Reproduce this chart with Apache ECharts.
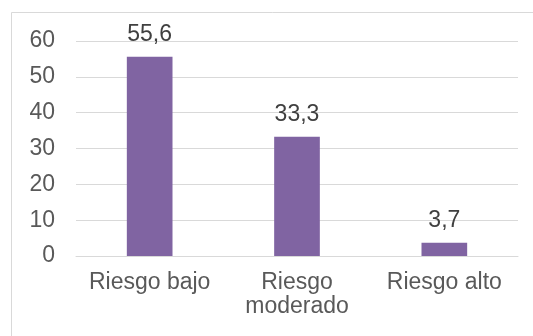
<!DOCTYPE html>
<html>
<head>
<meta charset="utf-8">
<script src="https://cdn.jsdelivr.net/npm/echarts@6/dist/echarts.min.js"></script>
<style>
  html, body { margin: 0; padding: 0; background: #fff; }
  #chart { width: 533px; height: 336px; }
</style>
</head>
<body>
<div id="chart"></div>
<script>
// Risk level categories and their percentages
const categories = ['Riesgo bajo', 'Riesgo\nmoderado', 'Riesgo alto'];
const values = [55.6, 33.3, 3.7];
const yTicks = { min: 0, max: 60, interval: 10 };

const chart = echarts.init(document.getElementById('chart'), null, { renderer: 'canvas' });

const FONT = 'Liberation Sans, Arial, sans-serif';

chart.setOption({
  animation: false,
  backgroundColor: '#ffffff',
  graphic: [{
    type: 'rect',
    shape: { x: 11.5, y: 12.5, width: 540, height: 340 },
    style: { fill: 'none', stroke: '#d9d9d9', lineWidth: 1 },
    silent: true
  }],
  grid: { left: 76, right: 15, top: 41, bottom: 80, containLabel: false },
  xAxis: {
    type: 'category',
    data: categories,
    axisLine: { show: true, lineStyle: { color: '#d9d9d9', width: 1 } },
    axisTick: { show: false },
    axisLabel: {
      color: '#595959',
      fontFamily: FONT,
      fontSize: 23,
      lineHeight: 24,
      margin: 15,
      interval: 0
    }
  },
  yAxis: {
    type: 'value',
    min: yTicks.min,
    max: yTicks.max,
    interval: yTicks.interval,
    axisLine: { show: false },
    axisTick: { show: false },
    splitLine: { lineStyle: { color: '#d9d9d9', width: 1 } },
    axisLabel: {
      color: '#595959',
      fontFamily: FONT,
      fontSize: 23,
      margin: 21
    }
  },
  series: [{
    type: 'bar',
    data: values,
    barWidth: '31%',
    itemStyle: { color: '#8064a2' },
    label: {
      show: true,
      position: 'top',
      distance: 11,
      color: '#404040',
      fontFamily: FONT,
      fontSize: 23,
      formatter: p => String(p.value).replace('.', ',')
    }
  }]
});
</script>
</body>
</html>
